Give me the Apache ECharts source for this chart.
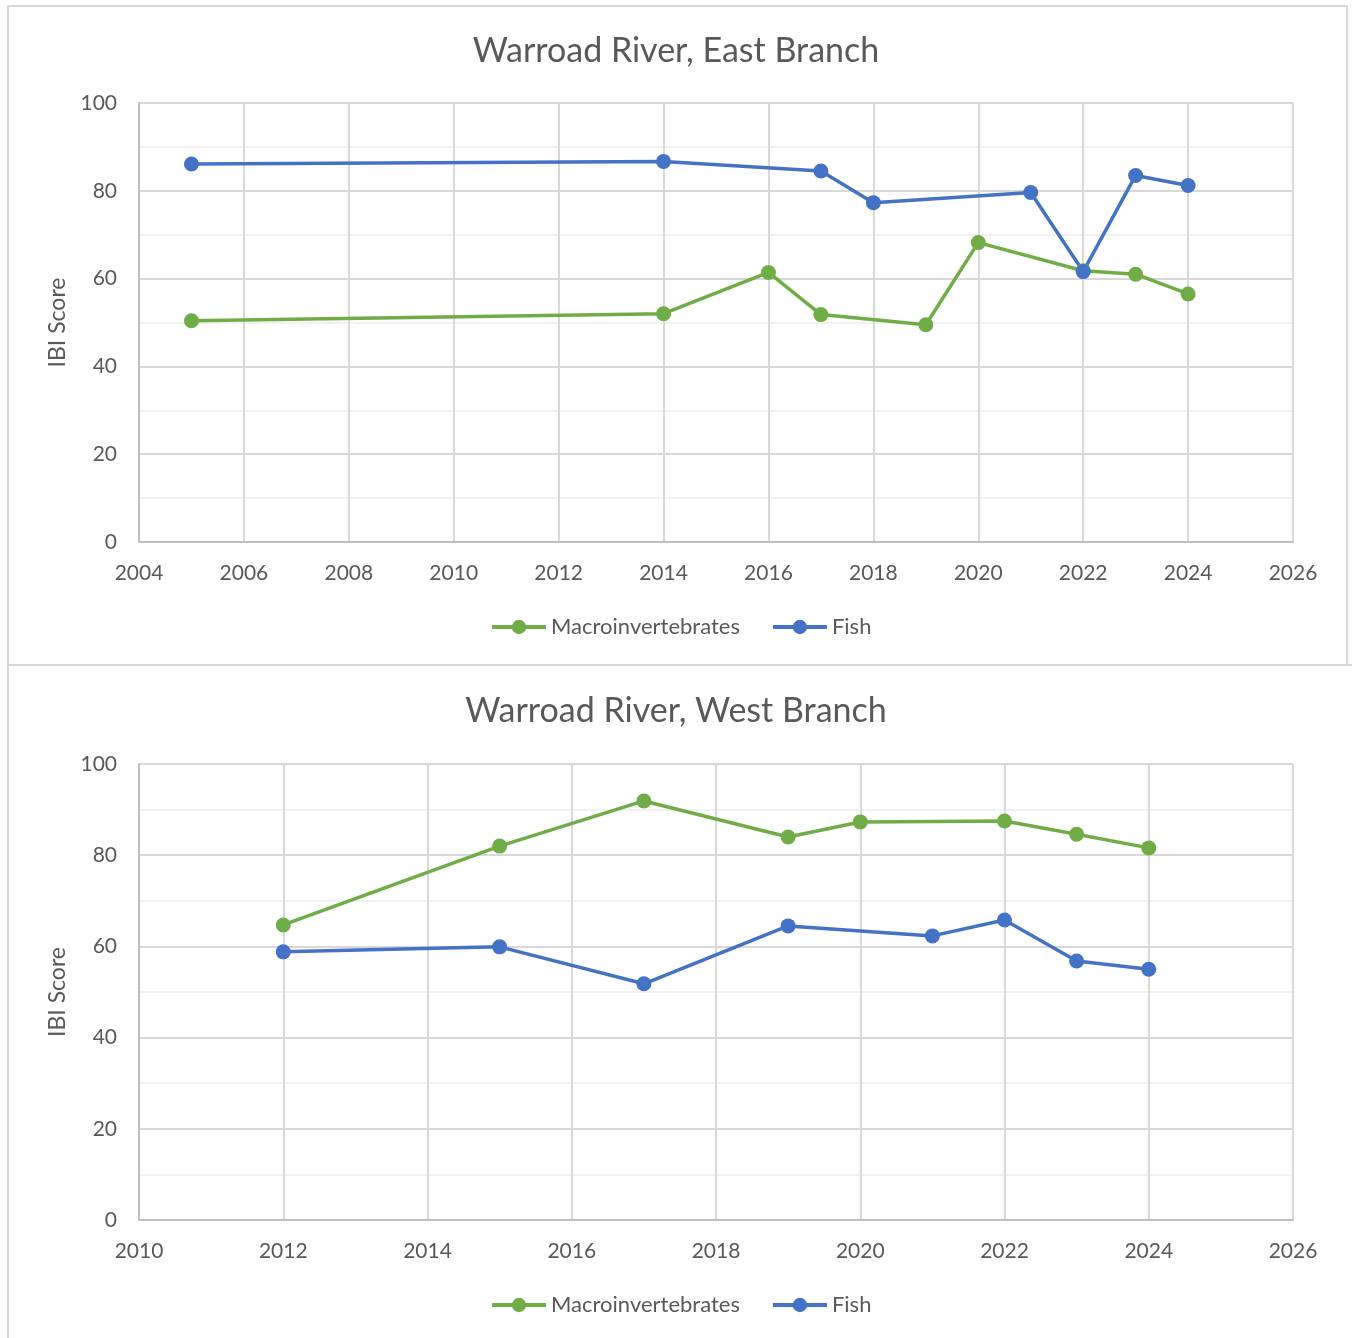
<!DOCTYPE html>
<html>
<head>
<meta charset="utf-8">
<script src="https://cdn.jsdelivr.net/npm/echarts@6/dist/echarts.min.js"></script>
<style>
html,body{margin:0;padding:0;background:#fff;}
#wrap{position:relative;width:1352px;height:1338px;overflow:hidden;}
#chart{position:absolute;left:0;top:0;width:1352px;height:1338px;}
.box{position:absolute;border:2px solid #d9d9d9;box-sizing:border-box;pointer-events:none;}
</style>
</head>
<body>
<div id="wrap">
<div id="chart"></div>
<div class="box" style="left:7px;top:5px;width:1341px;height:661px;"></div>
<div class="box" style="left:7px;top:664px;width:1360px;height:700px;"></div>
</div>
<script>
// ---- data ----
var eastTitle = 'Warroad River, East Branch';
var westTitle = 'Warroad River, West Branch';
var seriesNames = ['Macroinvertebrates', 'Fish'];

var eastMacroYears = [2005, 2014, 2016, 2017, 2019, 2020, 2022, 2023, 2024];
var eastMacroScores = [50.4, 52.0, 61.4, 51.8, 49.5, 68.2, 61.8, 61.0, 56.5];
var eastFishYears = [2005, 2014, 2017, 2018, 2021, 2022, 2023, 2024];
var eastFishScores = [86.1, 86.7, 84.5, 77.3, 79.6, 61.6, 83.5, 81.2];

var westMacroYears = [2012, 2015, 2017, 2019, 2020, 2022, 2023, 2024];
var westMacroScores = [64.7, 82.0, 91.9, 84.0, 87.3, 87.5, 84.6, 81.6];
var westFishYears = [2012, 2015, 2017, 2019, 2021, 2022, 2023, 2024];
var westFishScores = [58.8, 59.9, 51.8, 64.5, 62.3, 65.8, 56.8, 55.0];

var eastXRange = [2004, 2026];
var westXRange = [2010, 2026];
var yRange = [0, 100];
var yAxisName = 'IBI Score';

function pairs(xs, ys) { return xs.map(function (x, i) { return [x, ys[i]]; }); }

var FONT = 'Lato, "Open Sans", sans-serif';
var TXT = '#595959';
var GREEN = '#70ad47';
var BLUE = '#4472c4';

function xAxis(gi, range) {
  return {
    type: 'value', gridIndex: gi, min: range[0], max: range[1], interval: 2,
    axisLine: { show: true, lineStyle: { color: '#bfbfbf', width: 2 } },
    axisTick: { show: false },
    axisLabel: { color: TXT, fontSize: 21, fontFamily: FONT, margin: 21, formatter: function (v) { return String(v); } },
    splitLine: { show: true, lineStyle: { color: '#d9d9d9', width: 2 } }
  };
}
function yAxis(gi) {
  return {
    type: 'value', gridIndex: gi, min: yRange[0], max: yRange[1], interval: 20,
    name: yAxisName, nameLocation: 'middle', nameGap: 68, nameRotate: 90,
    nameTextStyle: { color: TXT, fontSize: 23, fontFamily: FONT },
    axisLine: { show: true, lineStyle: { color: '#bfbfbf', width: 2 } },
    axisTick: { show: false },
    axisLabel: { color: TXT, fontSize: 21, fontFamily: FONT, margin: 22 },
    splitLine: { show: true, lineStyle: { color: '#d9d9d9', width: 2 } },
    minorTick: { show: false, splitNumber: 2 },
    minorSplitLine: { show: true, lineStyle: { color: '#f2f2f2', width: 2 } }
  };
}
function line(name, color, xi, data) {
  return {
    name: name, type: 'line', xAxisIndex: xi, yAxisIndex: xi, data: data,
    symbol: 'circle', symbolSize: 15, showSymbol: true,
    lineStyle: { color: color, width: 3.5 },
    itemStyle: { color: color },
    emphasis: { disabled: true },
    animation: false
  };
}
function legend(top) {
  return {
    top: top, left: 485, data: seriesNames, itemWidth: 54, itemHeight: 18, itemGap: 31,
    lineStyle: { width: 4 },
    textStyle: { color: TXT, fontSize: 22, fontFamily: FONT }
  };
}

var chart = echarts.init(document.getElementById('chart'), null, { renderer: 'canvas' });
chart.setOption({
  backgroundColor: 'transparent',
  animation: false,
  title: [
    { text: eastTitle, left: 'center', top: 29, textStyle: { color: TXT, fontSize: 34, fontWeight: 'normal', fontFamily: FONT } },
    { text: westTitle, left: 'center', top: 689, textStyle: { color: TXT, fontSize: 34, fontWeight: 'normal', fontFamily: FONT } }
  ],
  legend: [legend(611), legend(1289)],
  grid: [
    { left: 139, right: 59, top: 103, height: 439 },
    { left: 139, right: 59, top: 764, height: 456 }
  ],
  xAxis: [xAxis(0, eastXRange), xAxis(1, westXRange)],
  yAxis: [yAxis(0), yAxis(1)],
  series: [
    line(seriesNames[0], GREEN, 0, pairs(eastMacroYears, eastMacroScores)),
    line(seriesNames[1], BLUE, 0, pairs(eastFishYears, eastFishScores)),
    line(seriesNames[0], GREEN, 1, pairs(westMacroYears, westMacroScores)),
    line(seriesNames[1], BLUE, 1, pairs(westFishYears, westFishScores))
  ]
});
</script>
</body>
</html>
